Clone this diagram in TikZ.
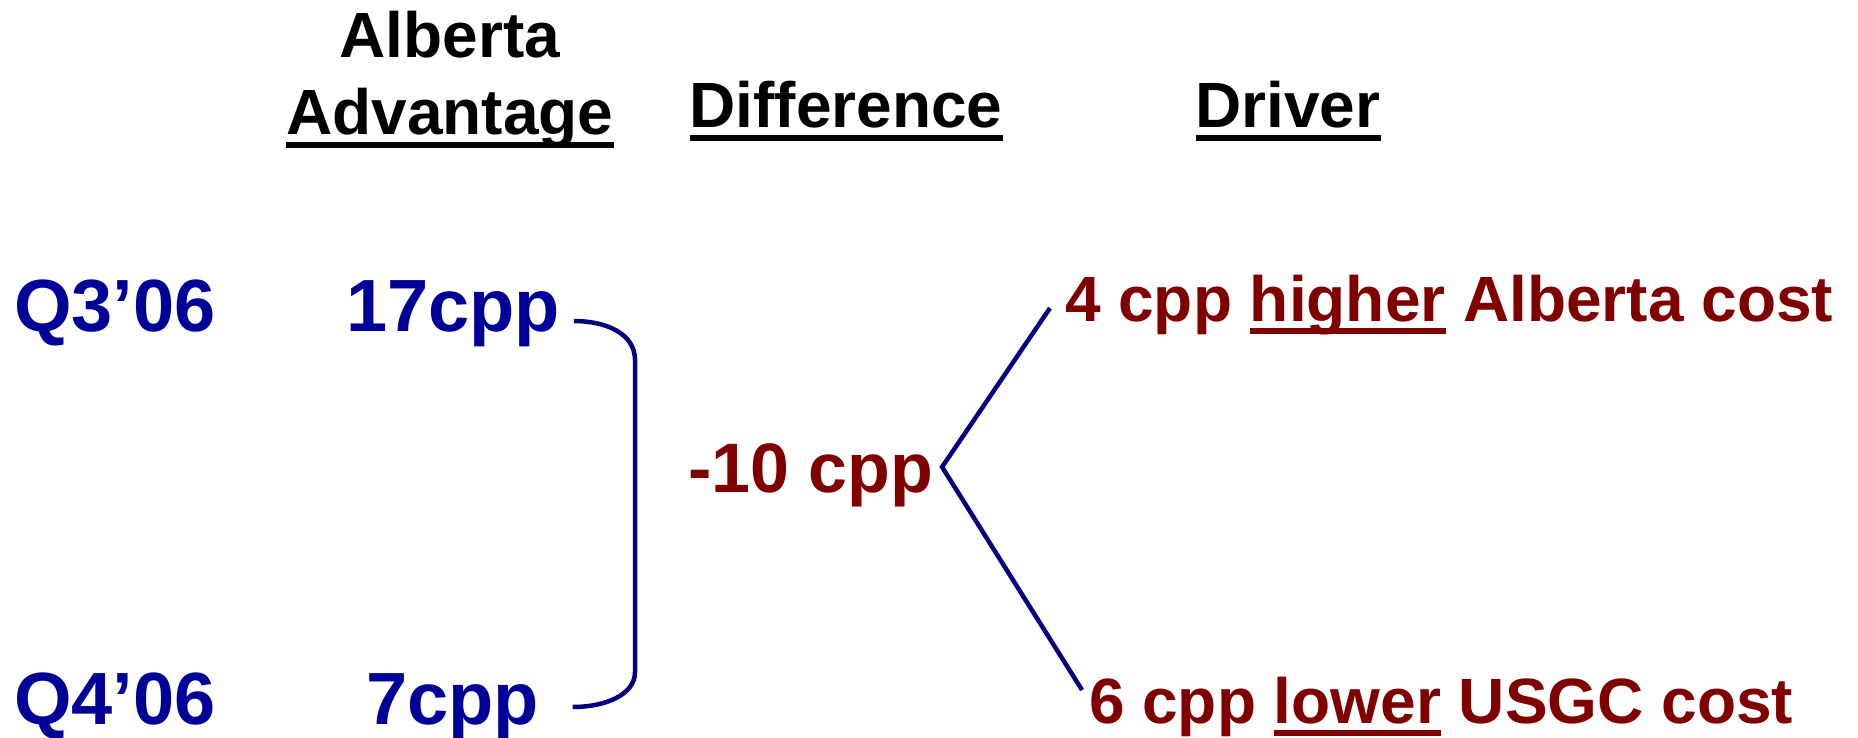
\documentclass[tikz,border=0pt]{standalone}
\usepackage{fontspec}
\setmainfont{Liberation Sans}
\definecolor{qblue}{HTML}{000099}
\definecolor{dred}{HTML}{800000}
\definecolor{lnavy}{HTML}{000080}
\newcommand{\myul}[1]{\setbox0\hbox{#1}\rlap{\rule[-0.21em]{\wd0}{0.1em}}\box0\relax}
\tikzset{
  x=1pt, y=-1pt,
  txt/.style={inner sep=0pt, outer sep=0pt, font=\bfseries},
  head/.style={txt, text=black, font=\bfseries\fontsize{64}{77}\selectfont, anchor=base},
  qlab/.style={txt, text=qblue, font=\bfseries\fontsize{74}{88}\selectfont, anchor=base west},
  rlab/.style={txt, text=dred, font=\bfseries\fontsize{64}{77}\selectfont, anchor=base west},
  conn/.style={draw=lnavy, line width=4.5pt}
}
\begin{document}
\begin{tikzpicture}
\useasboundingbox (0,0) rectangle (1858,738);
% headings
\node[head] (alb) at (450,58) {Alberta};
\node[head] (adv) at (450,135) {\myul{Advantage}};
\node[head] (diff) at (846,128) {\myul{Difference}};
\node[head] (drv) at (1288,128) {\myul{Driver}};
% left labels
\node[qlab] (q3) at (14,331) {Q3’06};
\node[qlab] (a17) at (346,331) {17cpp};
\node[qlab] (q4) at (14,724) {Q4’06};
\node[qlab] (a7) at (366,724) {7cpp};
% difference
\node[rlab, font=\bfseries\fontsize{70}{84}\selectfont] (d10) at (688,492) {-10 cpp};
% drivers
\node[rlab] (hi) at (1065,321) {4 cpp \myul{higher} Alberta cost};
\node[rlab] (lo) at (1089,723) {6 cpp \myul{lower} USGC cost};
% bracket
\coordinate (b1) at ([xshift=14pt, yshift=10pt]a17.base east);
\coordinate (b2) at ([xshift=34pt, yshift=17pt]a7.base east);
\draw[conn] (b1) .. controls (605,321) and (635,333) .. (635,360)
  -- (635,672) .. controls (635,695) and (605,707) .. (b2);
% V connectors
\coordinate (v) at ([xshift=9pt, yshift=25pt]d10.base east);
\coordinate (t1) at ([xshift=-15pt, yshift=13pt]hi.base west);
\coordinate (t2) at ([xshift=-7pt, yshift=33pt]lo.base west);
\draw[conn] (t1) -- (v) -- (t2);
\end{tikzpicture}
\end{document}
